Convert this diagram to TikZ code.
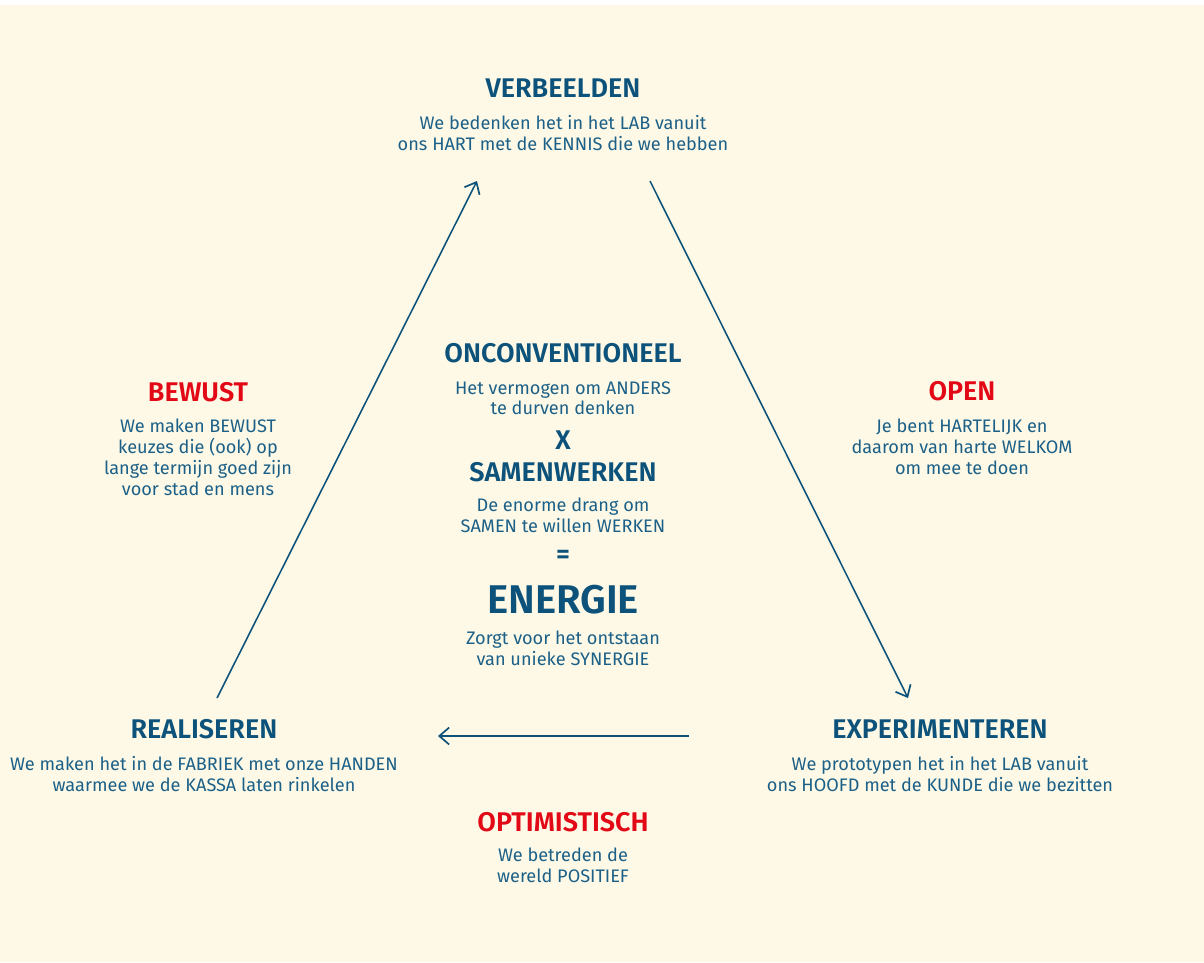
\documentclass[tikz,border=0pt]{standalone}
\usepackage{fontspec}
\setmainfont{Fira Sans}
\newfontfamily\headfont{Fira Sans SemiBold}
\usetikzlibrary{positioning, arrows.meta}
\definecolor{cream}{RGB}{253,249,230}
\definecolor{inkblue}{RGB}{12,82,122}
\definecolor{textblue}{RGB}{28,96,136}
\definecolor{signred}{RGB}{226,8,22}
\tikzset{
    %Define style for the stage titles
    title/.style={
           text=inkblue,
           font=\headfont\fontsize{19.2}{22}\selectfont,
           inner sep=0pt},
 %
    value/.style={
           title,
           text=signred},
 %
    big/.style={
           title,
           font=\headfont\fontsize{28.5}{32}\selectfont},
 %
    body/.style={
           text=textblue,
           font=\fontsize{12.9}{14.8}\selectfont,
           align=center,
           anchor=north,
           inner sep=0pt},
%
    % Define arrow style
    arrow/.style={
           -{Straight Barb[length=7pt,width=12pt,line width=1.2pt]},
           draw=inkblue,
           line width=1.1pt}
}

\begin{document}
\begin{tikzpicture}[x=0.025cm,y=-0.025cm]

  \fill[white] (0,0) rectangle (1204,962);
  \fill[cream] (0,5) rectangle (1204,962);

  % the three stages
  \node[title] (verb) at (563,88) {VERBEELDEN};
  \node[body] (verbtxt) at (563,115) {We bedenken het in het LAB vanuit\\ons HART met de KENNIS die we hebben};

  \node[title] (exp) at (940,729) {EXPERIMENTEREN};
  \node[body] (exptxt) at (940,756) {We prototypen het in het LAB vanuit\\ons HOOFD met de KUNDE die we bezitten};

  \node[title] (real) at (204,729) {REALISEREN};
  \node[body] (realtxt) at (204,756) {We maken het in de FABRIEK met onze HANDEN\\waarmee we de KASSA laten rinkelen};

  % values along the sides
  \node[value] (open) at (962,391) {OPEN};
  \node[body] (opentxt) at (962,419) {Je bent HARTELIJK en\\daarom van harte WELKOM\\om mee te doen};

  \node[value] (bewust) at (198,392) {BEWUST};
  \node[body] (bewusttxt) at (198,419) {We maken BEWUST\\keuzes die (ook) op\\lange termijn goed zijn\\voor stad en mens};

  \node[value] (optim) at (563,822) {OPTIMISTISCH};
  \node[body] (optimtxt) at (563,848) {We betreden de\\wereld POSITIEF};

  % centre
  \node[title] (oncon) at (563,353) {ONCONVENTIONEEL};
  \node[body] (oncontxt) at (563,381) {Het vermogen om ANDERS\\te durven denken};
  \node[title] (times) at (563,440) {X};
  \node[title] (samen) at (563,472) {SAMENWERKEN};
  \node[body] (samentxt) at (563,498) {De enorme drang om\\SAMEN te willen WERKEN};
  \node[title] (equals) at (563,557) {=};
  \node[big] (energie) at (563,600) {ENERGIE};
  \node[body] (energietxt) at (563,631) {Zorgt voor het ontstaan\\van unieke SYNERGIE};

  % cycle
  \coordinate (verbin) at (477,181);
  \coordinate (verbout) at (650,181);
  \coordinate (expin) at (908,698);
  \coordinate (expout) at (689,736);
  \coordinate (realin) at (438,736);
  \coordinate (realout) at (217,698);

  \draw[arrow] (verbout) -- (expin);
  \draw[arrow] (expout) -- (realin);
  \draw[arrow] (realout) -- (verbin);

\end{tikzpicture}
\end{document}
